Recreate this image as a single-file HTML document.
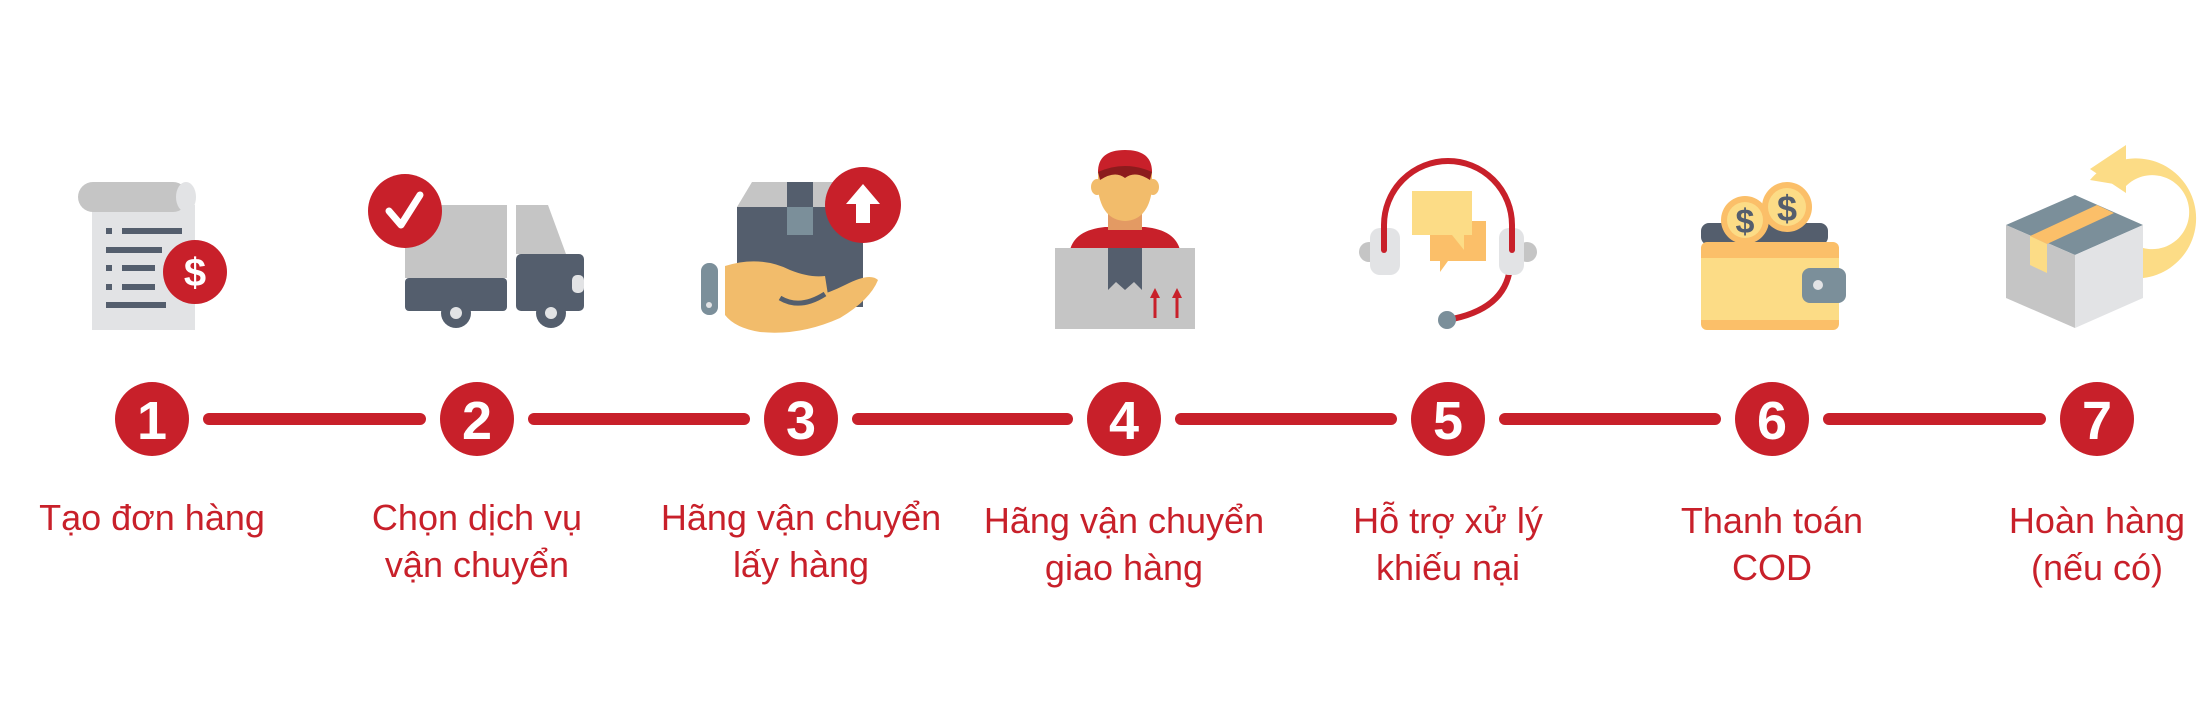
<!DOCTYPE html>
<html><head><meta charset="utf-8"><style>
html,body{margin:0;padding:0;background:#fff;}
svg{display:block;}
</style></head><body>
<svg width="2211" height="705" viewBox="0 0 2211 705" xmlns="http://www.w3.org/2000/svg">
<g stroke="#c8202a" stroke-width="12" stroke-linecap="round">
<line x1="209" y1="419" x2="420" y2="419"/>
<line x1="534" y1="419" x2="744" y2="419"/>
<line x1="858" y1="419" x2="1067" y2="419"/>
<line x1="1181" y1="419" x2="1391" y2="419"/>
<line x1="1505" y1="419" x2="1715" y2="419"/>
<line x1="1829" y1="419" x2="2040" y2="419"/>
</g>
<g fill="#c8202a">
<circle cx="152" cy="419" r="37"/><circle cx="477" cy="419" r="37"/><circle cx="801" cy="419" r="37"/><circle cx="1124" cy="419" r="37"/><circle cx="1448" cy="419" r="37"/><circle cx="1772" cy="419" r="37"/><circle cx="2097" cy="419" r="37"/>
</g>
<g fill="#fff" font-family="Liberation Sans, sans-serif" font-weight="bold" font-size="54" text-anchor="middle">
<text x="152" y="439">1</text><text x="477" y="439">2</text><text x="801" y="439">3</text><text x="1124" y="439">4</text><text x="1448" y="439">5</text><text x="1772" y="439">6</text><text x="2097" y="439">7</text>
</g>
<g fill="#c8202a" font-family="Liberation Sans, sans-serif" font-size="36" text-anchor="middle">
<text x="152" y="530">Tạo đơn hàng</text>
<text x="477" y="530">Chọn dịch vụ</text><text x="477" y="577">vận chuyển</text>
<text x="801" y="530">Hãng vận chuyển</text><text x="801" y="577">lấy hàng</text>
<text x="1124" y="533">Hãng vận chuyển</text><text x="1124" y="580">giao hàng</text>
<text x="1448" y="533">Hỗ trợ xử lý</text><text x="1448" y="580">khiếu nại</text>
<text x="1772" y="533">Thanh toán</text><text x="1772" y="580">COD</text>
<text x="2097" y="533">Hoàn hàng</text><text x="2097" y="580">(nếu có)</text>
</g>
<!-- icon1 receipt -->
<rect x="92" y="205" width="103" height="125" fill="#e2e3e5"/>
<rect x="78" y="182" width="110" height="30" rx="15" fill="#c5c5c5"/>
<ellipse cx="186" cy="197" rx="10" ry="15" fill="#e2e3e5"/>
<g fill="#545e6d">
<rect x="106" y="228" width="6" height="6"/><rect x="122" y="228" width="60" height="6"/>
<rect x="106" y="247" width="56" height="6"/>
<rect x="106" y="265" width="6" height="6"/><rect x="122" y="265" width="33" height="6"/>
<rect x="106" y="284" width="6" height="6"/><rect x="122" y="284" width="33" height="6"/>
<rect x="106" y="302" width="60" height="6"/>
</g>
<circle cx="195" cy="272" r="32" fill="#c8202a"/>
<text x="195" y="286" fill="#fff" font-family="Liberation Sans, sans-serif" font-weight="bold" font-size="40" text-anchor="middle">$</text>
<!-- icon2 truck -->
<rect x="405" y="205" width="102" height="73" fill="#c5c5c5"/>
<rect x="405" y="278" width="102" height="33" rx="4" fill="#545e6d"/>
<path d="M516 205 L548 205 L566 254 L516 254 Z" fill="#c5c5c5"/>
<rect x="516" y="254" width="68" height="57" rx="5" fill="#545e6d"/>
<rect x="572" y="275" width="12" height="18" rx="5" fill="#e2e3e5"/>
<circle cx="456" cy="313" r="15" fill="#545e6d"/><circle cx="456" cy="313" r="6" fill="#e2e3e5"/>
<circle cx="551" cy="313" r="15" fill="#545e6d"/><circle cx="551" cy="313" r="6" fill="#e2e3e5"/>
<circle cx="405" cy="211" r="37" fill="#c8202a"/>
<path d="M389 211 L401 225 L420 195" stroke="#fff" stroke-width="7" fill="none" stroke-linecap="round" stroke-linejoin="round"/>
<!-- icon3 box in hand -->
<path d="M752 182 L863 182 L863 207 L737 207 Z" fill="#c5c5c5"/>
<rect x="737" y="207" width="126" height="100" fill="#545e6d"/>
<rect x="787" y="182" width="26" height="25" fill="#545e6d"/>
<rect x="787" y="207" width="26" height="28" fill="#7b8f9a"/>
<path d="M725 266 Q760 255 790 270 Q810 278 825 276 L828 295 Q810 305 790 300 Q815 300 845 285 Q870 272 878 280 Q870 300 840 318 Q800 336 760 332 Q735 328 725 315 Z" fill="#f2bc6b"/>
<path d="M780 298 Q800 310 825 294" stroke="#545e6d" stroke-width="5" fill="none"/>
<rect x="701" y="263" width="17" height="52" rx="8" fill="#7b8f9a"/>
<circle cx="709" cy="305" r="3" fill="#e2e3e5"/>
<circle cx="863" cy="205" r="38" fill="#c8202a"/>
<path d="M863 184 L880 204 L870 204 L870 223 L856 223 L856 204 L846 204 Z" fill="#fff"/>
<!-- icon4 person -->
<path d="M1070 250 Q1075 230 1105 227 L1145 227 Q1175 230 1180 250 Z" fill="#c8202a"/>
<rect x="1108" y="212" width="34" height="18" fill="#e39a63"/>
<ellipse cx="1097" cy="187" rx="6" ry="8" fill="#f2bc6b"/><ellipse cx="1153" cy="187" rx="6" ry="8" fill="#f2bc6b"/>
<path d="M1098 170 L1152 170 L1152 190 Q1148 220 1125 221 Q1102 220 1098 190 Z" fill="#f2bc6b"/>
<path d="M1098 172 Q1098 150 1125 150 Q1152 150 1152 172 Z" fill="#c8202a"/>
<path d="M1098 172 Q1125 160 1152 172 L1150 180 Q1135 170 1125 178 Q1115 170 1100 180 Z" fill="#8c1b1d"/>
<rect x="1055" y="248" width="140" height="81" fill="#c5c5c5"/>
<path d="M1108 248 L1142 248 L1142 290 L1134 282 L1125 290 L1116 282 L1108 290 Z" fill="#545e6d"/>
<path d="M1155 296 L1155 318 M1177 296 L1177 318" stroke="#c8202a" stroke-width="3"/>
<path d="M1150 298 L1155 288 L1160 298 Z M1172 298 L1177 288 L1182 298 Z" fill="#c8202a"/>
<!-- icon5 headset -->
<path d="M1384 253 L1384 225 A64 64 0 0 1 1512 225 L1512 253" stroke="#c8202a" stroke-width="6" fill="none" stroke-linecap="round"/>
<path d="M1510 268 Q1505 310 1447 320" stroke="#c8202a" stroke-width="6" fill="none"/>
<circle cx="1447" cy="320" r="9" fill="#7b8f9a"/>
<circle cx="1369" cy="252" r="10" fill="#c5c5c5"/><circle cx="1527" cy="252" r="10" fill="#c5c5c5"/>
<rect x="1370" y="228" width="30" height="47" rx="10" fill="#e2e3e5"/>
<rect x="1499" y="228" width="25" height="47" rx="10" fill="#e2e3e5"/>
<path d="M1384 250 L1384 228" stroke="#c8202a" stroke-width="6" stroke-linecap="round"/>
<path d="M1512 250 L1512 228" stroke="#c8202a" stroke-width="6" stroke-linecap="round"/>
<path d="M1430 221 L1486 221 L1486 261 L1448 261 L1440 272 L1440 261 L1430 261 Z" fill="#fbbf69"/>
<path d="M1412 191 L1472 191 L1472 235 L1464 235 L1464 250 L1452 235 L1412 235 Z" fill="#fcdc86"/>
<!-- icon6 wallet -->
<rect x="1701" y="223" width="127" height="22" rx="8" fill="#545e6d"/>
<circle cx="1787" cy="207" r="25" fill="#fbbf69"/><circle cx="1787" cy="207" r="19" fill="#fcdc86"/>
<text x="1787" y="221" fill="#545e6d" font-family="Liberation Sans, sans-serif" font-weight="bold" font-size="36" text-anchor="middle">$</text>
<circle cx="1745" cy="220" r="24" fill="#fbbf69"/><circle cx="1745" cy="220" r="18" fill="#fcdc86"/>
<text x="1745" y="233" fill="#545e6d" font-family="Liberation Sans, sans-serif" font-weight="bold" font-size="34" text-anchor="middle">$</text>
<rect x="1701" y="242" width="138" height="88" rx="6" fill="#fbbf69"/>
<rect x="1701" y="258" width="138" height="62" fill="#fcdc86"/>
<rect x="1802" y="268" width="44" height="35" rx="8" fill="#7b8f9a"/>
<circle cx="1818" cy="285" r="5" fill="#e2e3e5"/>
<!-- icon7 box return -->
<path d="M2090 180 A60 60 0 1 1 2143 278 L2143 248 A37 37 0 1 0 2126 186 Z" fill="#fcdc86"/>
<path d="M2090 169 L2126 145 L2126 193 Z" fill="#fcdc86"/>
<path d="M2075 195 L2143 225 L2075 255 L2006 225 Z" fill="#7b8f9a"/>
<path d="M2006 225 L2075 255 L2075 328 L2006 298 Z" fill="#c5c5c5"/>
<path d="M2075 255 L2143 225 L2143 298 L2075 328 Z" fill="#e2e3e5"/>
<path d="M2030 236 L2097 205 L2114 213 L2047 244 Z" fill="#fbbf69"/>
<path d="M2030 236 L2047 244 L2047 273 L2030 265 Z" fill="#fcdc86"/>
</svg>
</body></html>
